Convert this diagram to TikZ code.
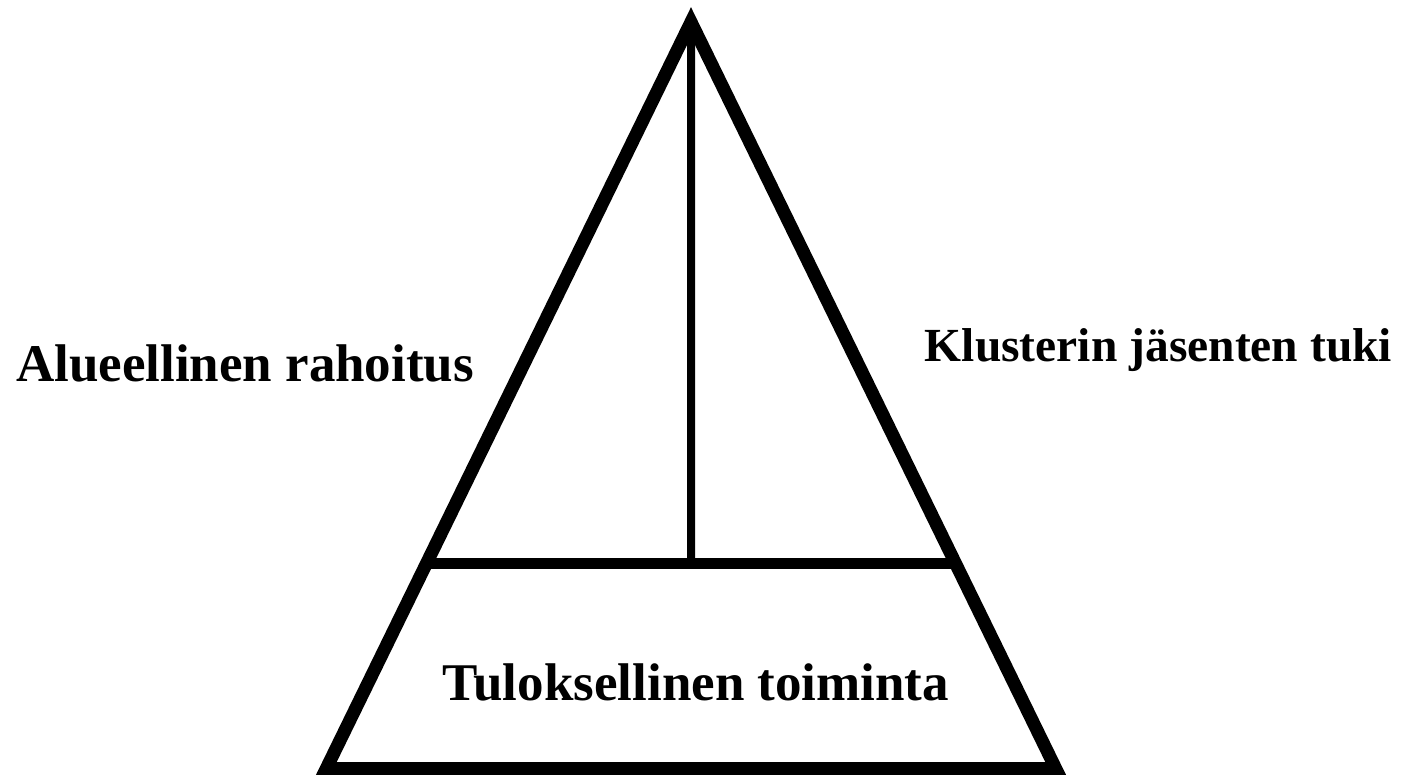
\documentclass[tikz,border=0pt]{standalone}
\usepackage{fontspec}
\setmainfont{Liberation Serif}
\usetikzlibrary{calc}
\tikzset{
  frame/.style={line width=6.5pt, line join=miter, miter limit=10},
  divider/.style={line width=5.5pt},
  spine/.style={line width=4pt},
  label/.style={font=\fontsize{26.5pt}{30pt}\selectfont\bfseries, inner sep=0pt, anchor=base},
  smalllabel/.style={label, font=\fontsize{23.75pt}{28pt}\selectfont\bfseries}
}
\begin{document}
\begin{tikzpicture}[x=0.5pt,y=-0.5pt]
\useasboundingbox (0,0) rectangle (1410,775);
\coordinate (apex) at (691,22);
\coordinate (bl) at (326.3,768.5);
\coordinate (br) at (1055.7,768.5);
\draw[frame] (apex) -- (bl) -- (br) -- cycle;
\coordinate (hl) at ($(apex)!0.725!(bl)$);
\coordinate (hr) at ($(apex)!0.725!(br)$);
\coordinate (hm) at ($(hl)!0.5!(hr)$);
\draw[divider] (hl) -- (hr);
\draw[spine] (apex) -- (hm);
\node[label] (left) at (245,382) {Alueellinen rahoitus};
\node[smalllabel] (right) at (1158.5,362) {Klusterin jäsenten tuki};
\node[label] (bottom) at (696,700) {Tuloksellinen toiminta};
\end{tikzpicture}
\end{document}
